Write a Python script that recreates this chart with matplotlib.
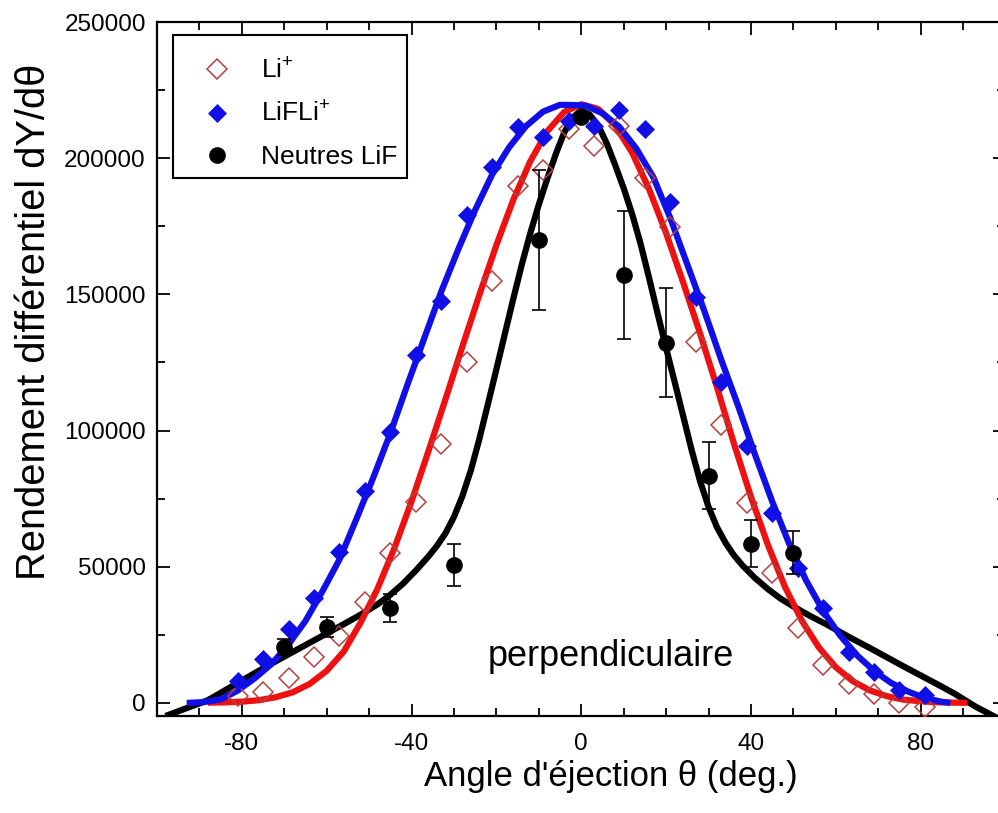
import matplotlib
matplotlib.use('Agg')
import matplotlib.pyplot as plt
from matplotlib.patches import Rectangle
from matplotlib.ticker import MultipleLocator, StrMethodFormatter

plt.rcParams['font.family'] = ['Liberation Sans', 'DejaVu Sans']
plt.rcParams['axes.unicode_minus'] = False
plt.rcParams['mathtext.fontset'] = 'custom'
plt.rcParams['mathtext.rm'] = 'Liberation Sans'
plt.rcParams['mathtext.it'] = 'Liberation Sans:italic'
plt.rcParams['mathtext.default'] = 'regular'

# ---------------- data ----------------
angles_6 = [-81, -75, -69, -63, -57, -51, -45, -39, -33, -27, -21, -15, -9, -3,
            3, 9, 15, 21, 27, 33, 39, 45, 51, 57, 63, 69, 75, 81]

li_plus = [2500, 4000, 9200, 16900, 24600, 37100, 55100, 73900, 95200, 125000,
           154800, 189700, 195600, 210600, 204400, 211700, 192600, 174600, 132700,
           102200, 73500, 47800, 27600, 14000, 7000, 3300, 0, -1500]

lifli_plus = [8100, 16200, 27200, 38600, 55500, 77900, 99600, 127900, 147400, 179000,
              196700, 211400, 207700, 213600, 211700, 217600, 210600, 183800, 148900,
              118000, 94500, 69800, 49600, 34900, 18700, 11400, 4800, 2900]

neutral_x = [-70, -60, -45, -30, -10, 0, 10, 20, 30, 40, 50]
neutral_y = [20600, 27900, 34900, 50700, 169800, 215000, 157000, 132300, 83400, 58400, 55100]
neutral_err = [3000, 3700, 5100, 7700, 25700, 0, 23500, 20000, 12300, 8600, 7900]

# fitted curves
fit_black_x = [-98, -93, -88, -84, -80, -76, -72, -68, -64, -60, -56, -52, -48, -45,
               -42, -39, -36, -34, -32, -30, -28, -26, -24, -22, -20, -18, -16, -14,
               -12, -10, -8, -6, -4, -2, 0, 2, 4, 6, 8, 10, 12, 14, 16, 18, 20, 22, 24,
               26, 28, 30, 32, 34, 36, 38, 41, 44, 47, 50, 54, 58, 63, 68, 72, 76, 80,
               84, 88, 93, 98]
fit_black_y = [-4800, -1900, 1000, 4600, 8200, 11800, 15300, 18700, 22100, 25500, 28900,
               32400, 36200, 39700, 43800, 48600, 53800, 57700, 62300, 68300, 76000,
               85500, 97000, 109700, 122500, 135500, 148500, 161000, 172500, 183000,
               192500, 201500, 209500, 215000, 217500, 216000, 212000, 205500, 197500,
               189000, 179500, 168500, 156000, 143000, 130300, 118000, 105500, 93000,
               81500, 72000, 64500, 58800, 54200, 50500, 45800, 41800, 38300, 35400,
               31900, 28700, 24300, 20200, 16800, 13400, 10100, 6800, 3400, -1400, -5500]

fit_red_x = [-88, -84, -80, -76, -72, -68, -64, -60, -56, -52, -48, -44, -40, -36, -32,
             -28, -24, -20, -16, -12, -8, -4, 0, 4, 8, 12, 16, 20, 24, 28, 32, 36, 40,
             44, 48, 52, 56, 60, 64, 68, 72, 76, 80, 84, 88, 91]
fit_red_y = [100, 200, 470, 1000, 2100, 3900, 7000, 11800, 18800, 29500, 42000, 57000,
             74000, 92500, 111500, 130900, 149900, 168100, 184800, 198900, 209900,
             217000, 219800, 218100, 212000, 202000, 188600, 172500, 154500, 135700,
             115900, 95200, 75700, 58000, 42700, 30200, 20400, 13100, 8000, 4600, 2500,
             1200, 600, 250, 100, 50]

fit_blue_x = [-93, -89, -85, -81, -77, -73, -69, -65, -61, -57, -53, -49, -45, -41, -37,
              -33, -29, -25, -21, -17, -13, -9, -5, -1, 1, 5, 9, 13, 17, 21, 25, 29, 33,
              37, 41, 45, 49, 53, 57, 61, 65, 69, 73, 77, 81, 85, 87]
fit_blue_y = [0, 300, 1300, 4500, 9000, 14300, 21500, 30100, 41000, 52600, 67500, 82800,
              99000, 116700, 133900, 151000, 166500, 181000, 194000, 204000, 211800,
              217100, 219600, 219500, 219300, 216500, 211500, 203500, 193000, 178000,
              161000, 144000, 126000, 109000, 91000, 74000, 58500, 45000, 33800, 24800,
              17500, 11800, 7400, 4200, 1800, 400, 0]

labels = ['Li$^{+}$', 'LiFLi$^{+}$', 'Neutres LiF']

# ---------------- figure ----------------
fig = plt.figure(figsize=(9.98, 8.13), dpi=100)
ax = fig.add_axes([0.1573, 0.1193, 0.8502, 0.8536])

BLUE = '#1010e6'
RED = '#ee1111'
LI_EDGE = '#b5413f'

ax.plot(fit_black_x, fit_black_y, color='black', lw=4.5, solid_capstyle='butt', zorder=2)
ax.plot(fit_red_x, fit_red_y, color=RED, lw=4.5, solid_capstyle='butt', zorder=3)
ax.plot(fit_blue_x, fit_blue_y, color=BLUE, lw=4.5, solid_capstyle='butt', zorder=4)

h1, = ax.plot(angles_6, li_plus, linestyle='none', marker='D', ms=10, mfc='none',
              mec=LI_EDGE, mew=1.1, zorder=5, label=labels[0])
h2, = ax.plot(angles_6, lifli_plus, linestyle='none', marker='D', ms=9, mfc=BLUE,
              mec=BLUE, mew=0.5, zorder=6, label=labels[1])
ax.errorbar(neutral_x, neutral_y, yerr=neutral_err, fmt='none', ecolor='black',
            elinewidth=1.2, capsize=5, capthick=1.2, zorder=7)
h3, = ax.plot(neutral_x, neutral_y, linestyle='none', marker='o', ms=11, mfc='black',
              mec='black', zorder=8, label=labels[2])

ax.text(6.9, 16900, 'perpendiculaire', fontsize=26, ha='center', va='center')

ax.set_xlim(-100, 100)
ax.set_ylim(-4800, 250000)
ax.xaxis.set_major_locator(MultipleLocator(40))
ax.xaxis.set_minor_locator(MultipleLocator(10))
ax.yaxis.set_major_locator(MultipleLocator(50000))
ax.yaxis.set_minor_locator(MultipleLocator(25000))
ax.yaxis.set_major_formatter(StrMethodFormatter('{x:.0f}'))
ax.xaxis.set_major_formatter(StrMethodFormatter('{x:.0f}'))

ax.tick_params(which='both', direction='in', top=True, right=True, width=1.3)
ax.tick_params(which='major', length=9, labelsize=17.5)
ax.tick_params(axis='x', which='major', pad=12)
ax.tick_params(axis='y', which='major', pad=8)
ax.tick_params(which='minor', length=5.5)
for sp in ax.spines.values():
    sp.set_linewidth(1.6)

ax.set_xlabel("Angle d'éjection θ (deg.)", fontsize=25)
ax.set_ylabel('Rendement différentiel dY/dθ', fontsize=28.7)
ax.xaxis.set_label_coords(0.535, -0.064)
ax.yaxis.set_label_coords(-0.122, 0.568)

# legend box
ax.add_patch(Rectangle((0.01886, 0.7752), 0.2758, 0.2061, transform=ax.transAxes,
                       facecolor='white', edgecolor='black', lw=1.5, zorder=9,
                       clip_on=False))
leg = ax.legend(handles=[h1, h2, h3], loc='upper left', bbox_to_anchor=(0.0318, 0.948),
                borderaxespad=0, borderpad=0, fontsize=19, frameon=False,
                handlelength=2.5, handletextpad=0.42, labelspacing=0.69, numpoints=1)
leg.set_zorder(10)

fig.savefig('out.png', dpi=100)
